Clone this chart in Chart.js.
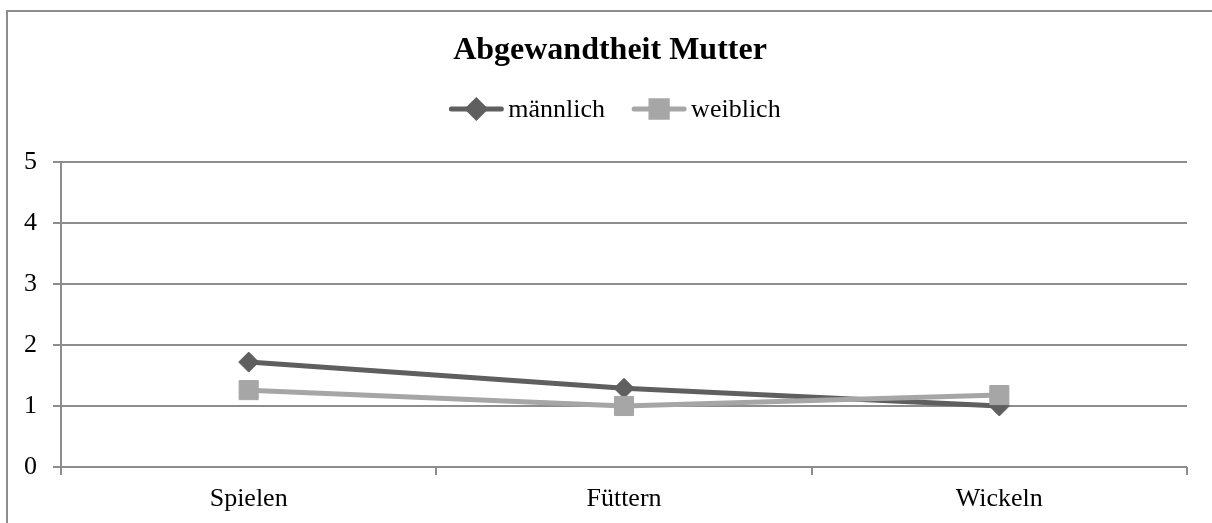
<!DOCTYPE html>
<html>
<head>
<meta charset="utf-8">
<script src="https://cdn.jsdelivr.net/npm/chart.js@4/dist/chart.umd.min.js"></script>
<style>
  html, body { margin: 0; padding: 0; background: #fff; overflow: hidden; }
  body { width: 1212px; height: 523px; position: relative; }
  #frame { position: absolute; left: 6px; top: 10px; width: 1300px; height: 600px;
           border: 2px solid #8d8d8d; box-sizing: border-box; }
  #wrap { position: absolute; left: 8px; top: 12px; width: 1204px; height: 511px; }
</style>
</head>
<body>
<div id="frame"></div>
<div id="wrap"><canvas id="c"></canvas></div>
<script>
// Rating of maternal averted attention per care situation
const chartTitle = 'Abgewandtheit Mutter';
const categories = ['Spielen', 'Füttern', 'Wickeln'];
const seriesNames = ['männlich', 'weiblich'];
const maleValues = [1.72, 1.29, 1.0];
const femaleValues = [1.26, 1.0, 1.18];
const yTicks = [0, 1, 2, 3, 4, 5];

const SERIF = '"Liberation Serif", "Times New Roman", serif';
const DARK = '#5f5f5f';
const LIGHT = '#a6a6a6';
const GRID = '#8d8d8d';

// Legend: a short line with the series marker on it, followed by the name
const lineLegend = {
  id: 'lineLegend',
  afterDraw(chart) {
    const ctx = chart.ctx;
    const lineLen = 54, gap = 5, spacing = 27, cy = 97;
    ctx.save();
    ctx.font = '26px ' + SERIF;
    const items = chart.data.datasets.map(ds => ({ ds, w: ctx.measureText(ds.label).width }));
    const total = items.reduce((s, it) => s + lineLen + gap + it.w, 0) + spacing * (items.length - 1);
    let x = chart.width / 2 + 5 - total / 2;
    items.forEach(({ ds, w }) => {
      ctx.strokeStyle = ds.borderColor;
      ctx.lineWidth = ds.borderWidth;
      ctx.lineCap = 'round';
      ctx.beginPath();
      ctx.moveTo(x + 2, cy);
      ctx.lineTo(x + lineLen - 2, cy);
      ctx.stroke();
      ctx.fillStyle = ds.pointBackgroundColor;
      ctx.strokeStyle = ds.pointBorderColor;
      Chart.helpers.drawPoint(ctx, {
        pointStyle: ds.pointStyle,
        rotation: 0,
        radius: ds.legendRadius,
        borderWidth: ds.pointBorderWidth
      }, x + lineLen / 2, cy);
      ctx.fillStyle = '#000';
      ctx.textBaseline = 'middle';
      ctx.textAlign = 'left';
      ctx.fillText(ds.label, x + lineLen + gap, cy + 1);
      x += lineLen + gap + w + spacing;
    });
    ctx.restore();
  }
};

new Chart(document.getElementById('c'), {
  type: 'line',
  data: {
    labels: categories,
    datasets: [
      {
        label: seriesNames[0],
        data: maleValues,
        borderColor: DARK,
        borderWidth: 5,
        pointStyle: 'rectRot',
        pointRadius: 10,
        legendRadius: 8.5,
        pointBackgroundColor: DARK,
        pointBorderColor: DARK,
        pointBorderWidth: 1,
        tension: 0,
        order: 1
      },
      {
        label: seriesNames[1],
        data: femaleValues,
        borderColor: LIGHT,
        borderWidth: 5,
        pointStyle: 'rect',
        pointRadius: 13.5,
        legendRadius: 11.5,
        pointBackgroundColor: LIGHT,
        pointBorderColor: LIGHT,
        pointBorderWidth: 1,
        tension: 0,
        order: 0
      }
    ]
  },
  options: {
    responsive: true,
    maintainAspectRatio: false,
    animation: false,
    clip: false,
    layout: { padding: 0 },
    plugins: {
      legend: { display: false },
      tooltip: { enabled: false },
      title: {
        display: true,
        text: chartTitle,
        color: '#000',
        font: { family: SERIF, size: 32, weight: 'bold', lineHeight: 1.2 },
        padding: { top: 20, bottom: 91.6 }
      }
    },
    scales: {
      x: {
        offset: true,
        grid: {
          offset: true,
          drawOnChartArea: false,
          drawTicks: true,
          tickLength: 8,
          color: GRID,
          lineWidth: 2
        },
        border: { display: false },
        ticks: {
          color: '#000',
          padding: 9,
          font: { family: SERIF, size: 26 }
        },
        afterFit(scale) { scale.height = 56; }
      },
      y: {
        min: 0,
        max: 5,
        afterBuildTicks(scale) { scale.ticks = yTicks.map(v => ({ value: v })); },
        grid: {
          color: GRID,
          lineWidth: 2,
          tickLength: 8
        },
        border: { display: true, color: GRID, width: 2 },
        ticks: {
          color: '#000',
          padding: 16,
          font: { family: SERIF, size: 26 }
        },
        afterFit(scale) { scale.width = 53; }
      },
      // empty right-hand margin beside the plot
      yRight: {
        position: 'right',
        min: 0,
        max: 5,
        grid: { display: false },
        border: { display: false },
        ticks: { display: false },
        afterFit(scale) { scale.width = 25; }
      }
    }
  },
  plugins: [lineLegend]
});
</script>
</body>
</html>
